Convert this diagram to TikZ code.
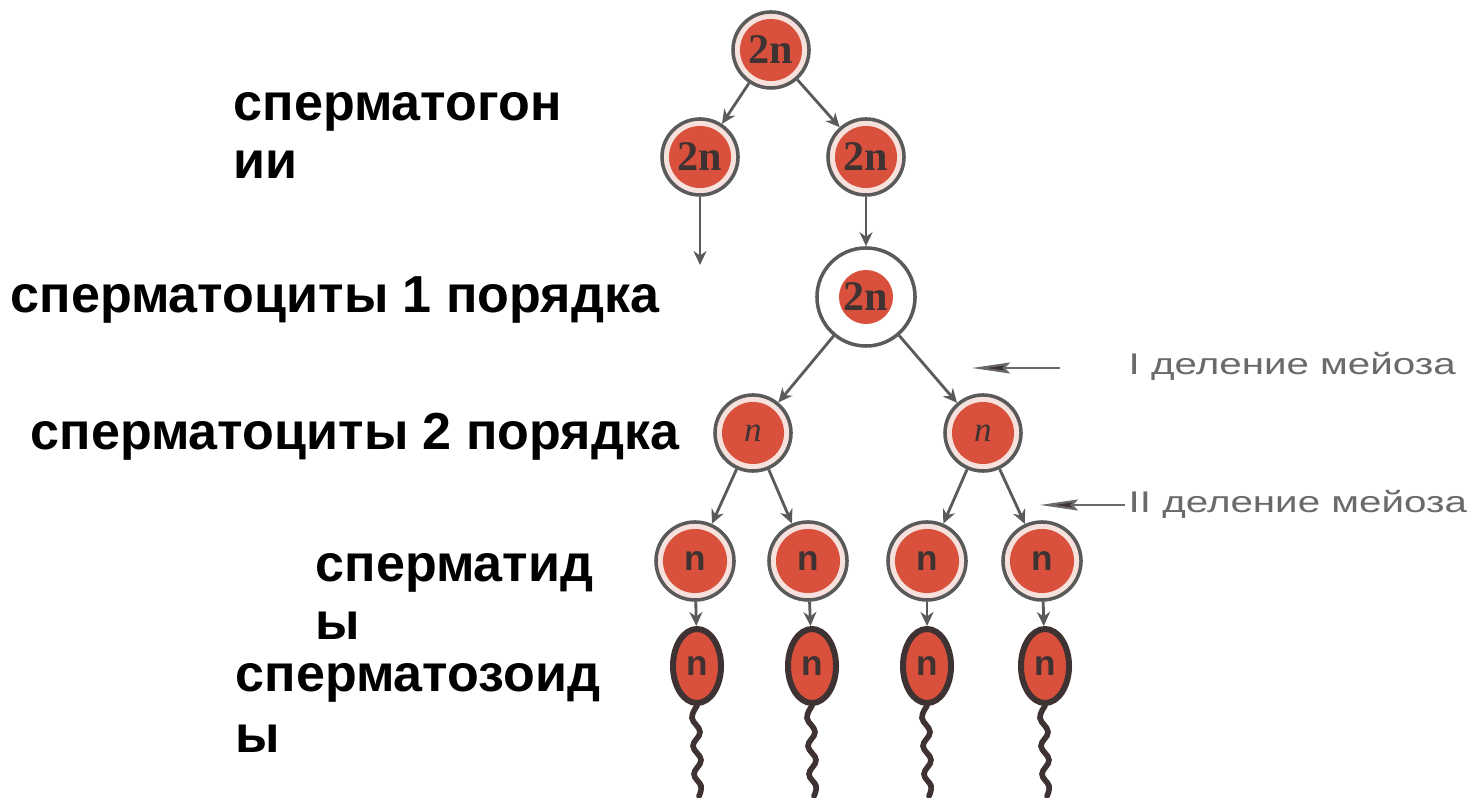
\documentclass[tikz,border=0pt]{standalone}
\usepackage{fontspec}
\setmainfont{Liberation Sans}
\newfontfamily\widefont[FakeStretch=1.35]{Liberation Sans}
\newfontfamily\cellfont{Liberation Serif}
\usetikzlibrary{arrows.meta, shapes.geometric}

\definecolor{cellred}{HTML}{D9503C}
\definecolor{cellring}{HTML}{F6E1DC}
\definecolor{edgegray}{HTML}{5A5A5A}
\definecolor{headedge}{HTML}{3E3232}
\definecolor{notegray}{HTML}{6A6A6A}

\begin{document}
\begin{tikzpicture}[
    x=0.01cm, y=-0.01cm,
    cell/.style={circle, draw=edgegray, line width=1pt, fill=cellring,
        minimum size=0.76cm, inner sep=0pt,
        path picture={\fill[cellred] (path picture bounding box.center) circle (#1);}},
    cell/.default=0.31cm,
    head/.style={ellipse, draw=headedge, line width=1.7pt, fill=cellred,
        minimum width=0.48cm, minimum height=0.74cm, inner sep=0pt},
    split/.style={draw=edgegray, line width=0.8pt,
        -{Stealth[length=0.14cm, width=0.13cm]}},
    note/.style={draw=notegray, line width=0.6pt,
        -{Stealth[length=0.38cm, width=0.11cm, inset=0.05cm, fill=headedge]}},
    tail/.style={draw=headedge, line width=1.6pt, line cap=round},
    % multi-line stage names sit on the baseline of their last line
    stage/.style={anchor=base west, inner sep=0pt, align=left,
        font=\fontsize{14.8}{16.5}\selectfont\bfseries},
    meiosis/.style={anchor=base west, inner sep=0pt, text=notegray,
        font=\widefont\fontsize{8.5}{10}\selectfont},
    twon/.style={font=\cellfont\fontsize{12}{12}\selectfont\bfseries, text=headedge},
    onen/.style={font=\fontsize{10}{10}\selectfont\bfseries, text=headedge}
]
    \fill[white] (0,0) rectangle (1467,798);
    \useasboundingbox (0,0) rectangle (1467,798);

    % spermatogonia
    \node[cell, twon] (sg0) at (771,50) {2n};
    \node[cell, twon] (sg1) at (700,157) {2n};
    \node[cell, twon] (sg2) at (866,157) {2n};
    \coordinate (sg1end) at (700,265);

    % spermatocytes
    \node[cell=0.27cm, fill=white, minimum size=0.98cm, twon] (sc1) at (866,297) {2n};
    \node[cell, font=\cellfont\itshape\fontsize{10}{10}\selectfont, text=headedge] (sc2a) at (753,433) {n};
    \node[cell, font=\cellfont\itshape\fontsize{10}{10}\selectfont, text=headedge] (sc2b) at (983,433) {n};

    % spermatids and spermatozoa
    \foreach \i/\x/\hx in {1/695/697, 2/808/812, 3/927/927, 4/1042/1045} {
        \node[cell=0.32cm, minimum size=0.78cm, onen] (st\i) at (\x,561) {n};
        \node[head, onen] (sz\i) at (\hx,666) {n};
        \draw[split] (st\i) -- (sz\i);
        \begin{scope}[shift={(sz\i.south)}]
            \draw[tail] plot[smooth, tension=0.7] coordinates
                {(0,0) (-5,12) (3,26) (-4,40) (4,54) (-3,68) (4,80) (2,90)};
        \end{scope}
    }

    \draw[split] (sg0) -- (sg1);
    \draw[split] (sg0) -- (sg2);
    \draw[split] (sg1) -- (sg1end);
    \draw[split] (sg2) -- (sc1);
    \draw[split] (sc1) -- (sc2a);
    \draw[split] (sc1) -- (sc2b);
    \draw[split] (sc2a) -- (st1);
    \draw[split] (sc2a) -- (st2);
    \draw[split] (sc2b) -- (st3);
    \draw[split] (sc2b) -- (st4);

    % meiotic divisions
    \coordinate (m1from) at (1060,368);
    \coordinate (m1to) at (972,368);
    \coordinate (m2from) at (1125,505);
    \coordinate (m2to) at (1040,505);
    \draw[note] (m1from) -- (m1to);
    \draw[note] (m2from) -- (m2to);
    \node[meiosis] (m1txt) at (1128,375) {I деление мейоза};
    \node[meiosis] (m2txt) at (1128,513) {II деление мейоза};

    % stage names
    \node[stage] (lsg) at (233,179) {сперматогон\\ии};
    \node[stage] (lsc1) at (10,313) {сперматоциты 1 порядка};
    \node[stage] (lsc2) at (30,450) {сперматоциты 2 порядка};
    \node[stage] (lst) at (315,640) {сперматид\\ы};
    \node[stage] (lsz) at (235,753) {сперматозоид\\[1pt]ы};
\end{tikzpicture}
\end{document}
